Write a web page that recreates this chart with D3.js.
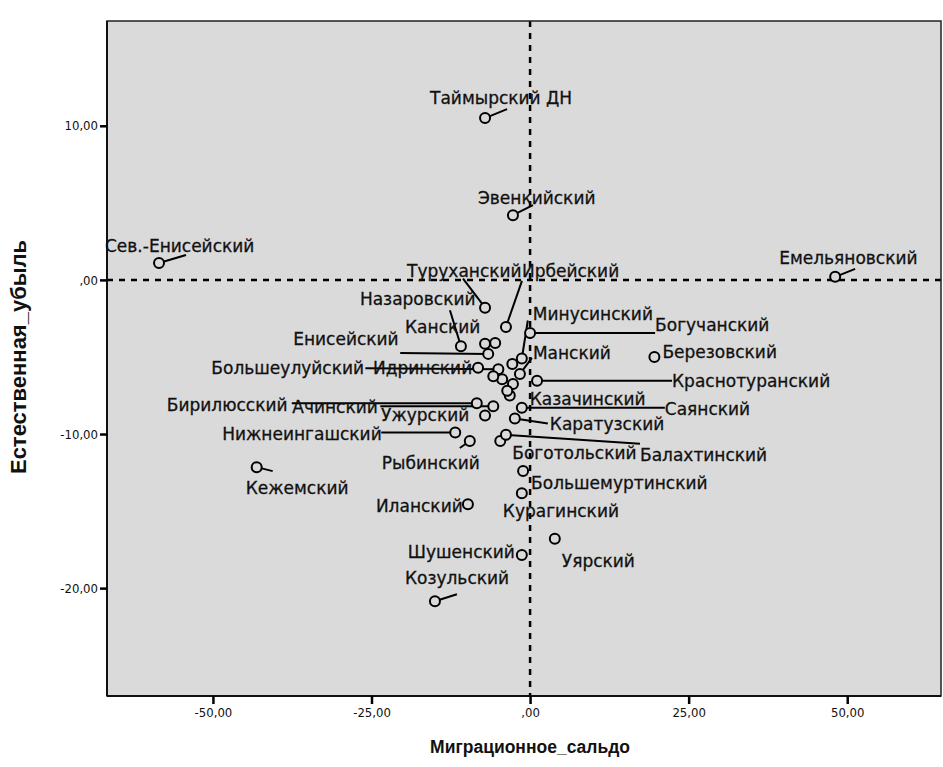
<!DOCTYPE html>
<html>
<head>
<meta charset="utf-8">
<script src="https://cdn.jsdelivr.net/npm/d3@7"></script>
<style>
  html, body { margin: 0; padding: 0; background: #ffffff; }
  svg { display: block; }
</style>
</head>
<body>
<svg id="chart" width="943" height="767"></svg>
<script>
// ---------- DATA ----------
const districts = [
  "Таймырский ДН", "Эвенкийский", "Сев.-Енисейский", "Емельяновский", "Туруханский",
  "Ирбейский", "Назаровский", "Минусинский", "Богучанский", "Канский",
  "Енисейский", "Манский", "Березовский", "Большеулуйский", "Идринский",
  "Краснотуранский", "Бирилюсский", "Ачинский", "Казачинский", "Саянский",
  "Ужурский", "Каратузский", "Нижнеингашский", "Боготольский", "Балахтинский",
  "Рыбинский", "Большемуртинский", "Кежемский", "Иланский", "Курагинский",
  "Шушенский", "Уярский", "Козульский",
  "", "", "", "", "", ""
];
const migration = [
  -7.1, -2.7, -58.5, 48.1, -7.1,
  -3.8, -10.9, -1.3, 0.0, -7.1,
  -6.6, -1.6, 19.6, -5.0, -8.2,
  1.1, -8.4, -5.8, -3.2, -1.3,
  -7.1, -2.4, -11.8, -4.7, -3.8,
  -9.5, -1.1, -43.1, -9.8, -1.3,
  -1.3, 3.9, -15.0,
  -5.5, -2.8, -4.4, -2.7, -3.6, -5.8
];
const naturalLoss = [
  10.5, 4.2, 1.1, 0.2, -1.8,
  -3.05, -4.3, -5.1, -3.45, -4.15,
  -4.8, -6.1, -5.0, -5.8, -5.7,
  -6.55, -8.0, -8.2, -7.5, -8.3,
  -8.8, -9.0, -9.9, -10.45, -10.05,
  -10.45, -12.4, -12.15, -14.55, -13.85,
  -17.85, -16.8, -20.85,
  -4.1, -5.45, -6.45, -6.75, -7.2, -6.25
];
const xTicks = [-50, -25, 0, 25, 50];
const xTickLabels = ["-50,00", "-25,00", ",00", "25,00", "50,00"];
const yTicks = [10, 0, -10, -20];
const yTickLabels = ["10,00", ",00", "-10,00", "-20,00"];
const xTitle = "Миграционное_сальдо";
const yTitle = "Естественная_убыль";

// ---------- LABEL LAYOUT (pixel offsets from point: text left dx, text centre dy, leader end ex, ey) ----------
const labelLayout = {
  "Таймырский ДН": [-55, -20, 22, -9],
  "Эвенкийский": [-35, -17, 20, -10],
  "Сев.-Енисейский": [-54, -17, 27, -8],
  "Емельяновский": [-56, -19, 20, -8],
  "Туруханский": [-78, -37, -22, -29],
  "Ирбейский": [16, -56, 16, -46],
  "Назаровский": [-101, -47, -11, -36],
  "Минусинский": [11, -45, 6, -38],
  "Богучанский": [125, -8, 125, 0],
  "Канский": [-80, -17],
  "Енисейский": [-195, -15, -88, -1],
  "Манский": [13, -21, 12, -16],
  "Березовский": [8, -5],
  "Большеулуйский": [-287, -1, -133, -1],
  "Идринский": [-105, 0],
  "Краснотуранский": [135, 0, 135, 0],
  "Бирилюсский": [-310, 2, -185, 0],
  "Ачинский": [-201, 1, -113, 0],
  "Казачинский": [20, 3],
  "Саянский": [143, 1, 143, 0],
  "Ужурский": [-104, -1],
  "Каратузский": [35, 5, 33, 5],
  "Нижнеингашский": [-233, 1, -74, 0],
  "Боготольский": [12, 12],
  "Балахтинский": [134, 20, 134, 9],
  "Рыбинский": [-88, 22, -10, 7],
  "Большемуртинский": [8, 12],
  "Кежемский": [-11, 21, 16, 4],
  "Иланский": [-92, 2],
  "Курагинский": [-19, 18],
  "Шушенский": [-114, -3],
  "Уярский": [7, 22],
  "Козульский": [-30, -23, 22, -7]
};

// ---------- CHART ----------
const svg = d3.select("#chart");
const plotL = 107, plotR = 941, plotT = 21, plotB = 696;

const x = d3.scaleLinear().domain([-66.7, 65.1]).range([plotL, 943]);
const y = d3.scaleLinear().domain([-27.0, 16.8]).range([plotB, plotT]);

const points = districts.map((name, i) => ({ name, mx: migration[i], nl: naturalLoss[i] }));

svg.append("rect")
  .attr("x", plotL).attr("y", plotT)
  .attr("width", plotR - plotL).attr("height", plotB - plotT)
  .attr("fill", "#dadada");

svg.append("line")
  .attr("x1", x(0)).attr("x2", x(0))
  .attr("y1", plotT).attr("y2", plotB)
  .attr("stroke", "#000").attr("stroke-width", 2.5)
  .attr("stroke-dasharray", "6,6");
svg.append("line")
  .attr("x1", plotL).attr("x2", plotR)
  .attr("y1", y(0)).attr("y2", y(0))
  .attr("stroke", "#000").attr("stroke-width", 2.5)
  .attr("stroke-dasharray", "6,6");

svg.append("rect")
  .attr("x", plotL).attr("y", plotT)
  .attr("width", plotR - plotL).attr("height", plotB - plotT)
  .attr("fill", "none").attr("stroke", "#222").attr("stroke-width", 1.5);
svg.append("line").attr("x1", plotL).attr("x2", plotL).attr("y1", plotT).attr("y2", plotB)
  .attr("stroke", "#111").attr("stroke-width", 2);
svg.append("line").attr("x1", plotL).attr("x2", plotR).attr("y1", plotB).attr("y2", plotB)
  .attr("stroke", "#111").attr("stroke-width", 2);

const xAxis = d3.axisBottom(x)
  .tickValues(xTicks)
  .tickFormat((d, i) => xTickLabels[i])
  .tickSize(8).tickPadding(4);
const gx = svg.append("g").attr("transform", `translate(0,${plotB})`).call(xAxis);
gx.select(".domain").remove();
gx.selectAll(".tick line").attr("stroke", "#000").attr("stroke-width", 2.5);
gx.selectAll(".tick text")
  .attr("font-family", "'DejaVu Sans Condensed', 'DejaVu Sans', sans-serif")
  .attr("font-size", 13).attr("fill", "#111");

const yAxis = d3.axisLeft(y)
  .tickValues(yTicks)
  .tickFormat((d, i) => yTickLabels[i])
  .tickSize(7).tickPadding(2);
const gy = svg.append("g").attr("transform", `translate(${plotL},0)`).call(yAxis);
gy.select(".domain").remove();
gy.selectAll(".tick line").attr("stroke", "#000").attr("stroke-width", 2.5);
gy.selectAll(".tick text")
  .attr("font-family", "'DejaVu Sans Condensed', 'DejaVu Sans', sans-serif")
  .attr("font-size", 13).attr("fill", "#111");

svg.append("text")
  .attr("x", x(0)).attr("y", 753)
  .attr("text-anchor", "middle")
  .attr("font-family", "'Liberation Sans', Arial, sans-serif")
  .attr("font-weight", "bold").attr("font-size", 17.5)
  .attr("fill", "#111")
  .text(xTitle);
svg.append("text")
  .attr("transform", `translate(26,357) rotate(-90)`)
  .attr("text-anchor", "middle")
  .attr("font-family", "'Liberation Sans', Arial, sans-serif")
  .attr("font-weight", "bold").attr("font-size", 22)
  .attr("fill", "#111")
  .text(yTitle);

const lbl = points.filter(p => p.name && labelLayout[p.name]);
svg.append("g").selectAll("line")
  .data(lbl.filter(p => labelLayout[p.name].length === 4))
  .join("line")
  .attr("x1", p => x(p.mx)).attr("y1", p => y(p.nl))
  .attr("x2", p => x(p.mx) + labelLayout[p.name][2])
  .attr("y2", p => y(p.nl) + labelLayout[p.name][3])
  .attr("stroke", "#000").attr("stroke-width", 2);

svg.append("g").selectAll("circle")
  .data(points)
  .join("circle")
  .attr("cx", p => x(p.mx)).attr("cy", p => y(p.nl))
  .attr("r", 5)
  .attr("fill", "#dadada")
  .attr("stroke", "#000").attr("stroke-width", 2);

svg.append("g").selectAll("text")
  .data(lbl)
  .join("text")
  .attr("x", p => x(p.mx) + labelLayout[p.name][0])
  .attr("y", p => y(p.nl) + labelLayout[p.name][1])
  .attr("dy", "0.36em")
  .attr("font-family", "'DejaVu Sans', sans-serif")
  .attr("font-size", 17)
  .attr("fill", "#111")
  .attr("stroke", "#111").attr("stroke-width", 0.3)
  .text(p => p.name);
</script>
</body>
</html>
